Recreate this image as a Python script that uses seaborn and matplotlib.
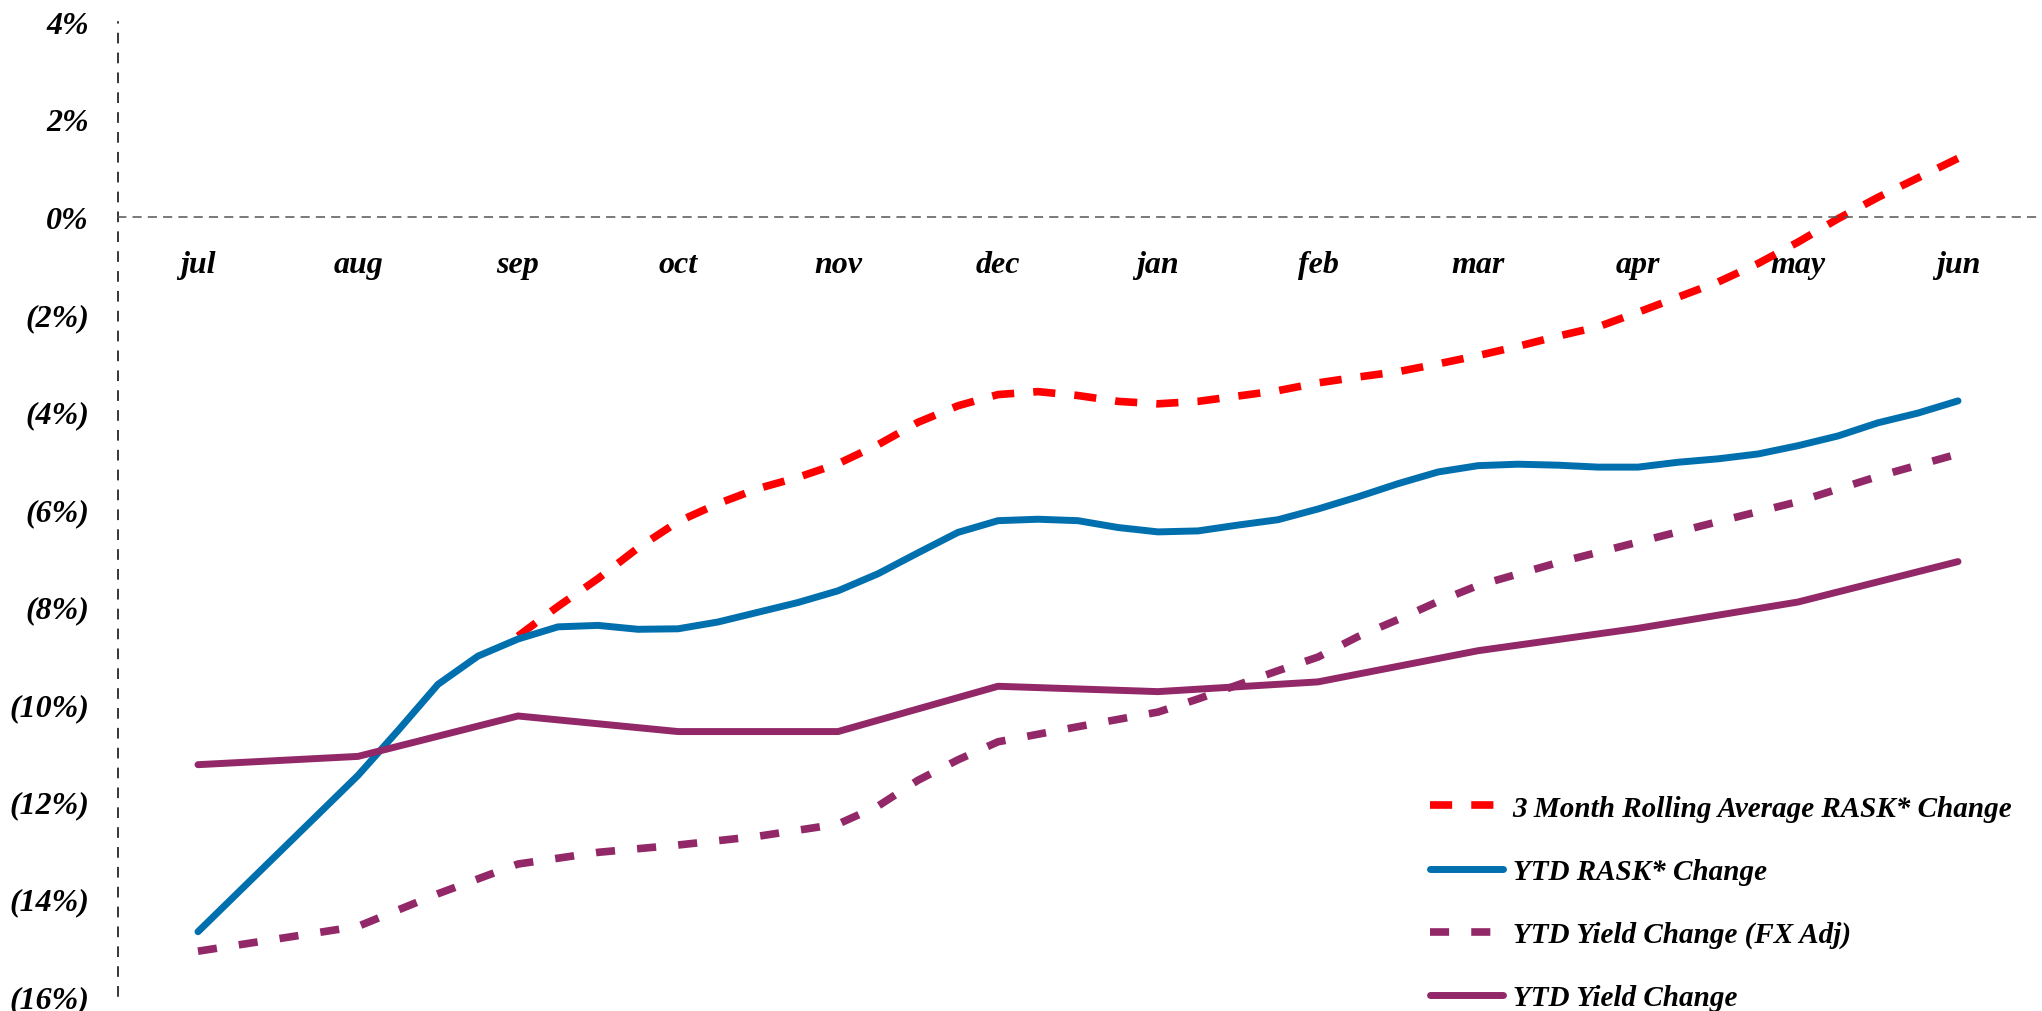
import numpy as np
import pandas as pd
import matplotlib
matplotlib.use("Agg")
import matplotlib.pyplot as plt
from matplotlib.ticker import FuncFormatter, FixedLocator
import seaborn as sns

# -------------------------------
# Data (% change)
# x positions are in months, 0 = jul ... 11 = jun
# -------------------------------
months = ["jul", "aug", "sep", "oct", "nov", "dec",
          "jan", "feb", "mar", "apr", "may", "jun"]

rolling_x = [2, 2.25, 2.5, 2.75, 3, 3.25, 3.5, 3.75, 4, 4.25, 4.5, 4.75,
             5, 5.25, 5.5, 5.75, 6, 6.25, 6.5, 6.75, 7, 7.25, 7.5, 7.75,
             8, 8.25, 8.5, 8.75, 9, 9.25, 9.5, 9.75, 10, 10.25, 10.5, 10.75, 11]
rolling_rask = [-8.61, -8.0, -7.43, -6.8, -6.26, -5.89, -5.58, -5.35, -5.07, -4.68, -4.22, -3.88,
                -3.65, -3.59, -3.67, -3.79, -3.84, -3.79, -3.68, -3.57, -3.41, -3.29, -3.18, -3.02,
                -2.85, -2.66, -2.45, -2.26, -1.96, -1.65, -1.34, -0.96, -0.52, -0.04, 0.4, 0.8, 1.2]

ytd_rask_x = [0, 1, 1.25, 1.5, 1.75, 2, 2.25, 2.5, 2.75, 3, 3.25, 3.5, 3.75, 4, 4.25, 4.5, 4.75,
              5, 5.25, 5.5, 5.75, 6, 6.25, 6.5, 6.75, 7, 7.25, 7.5, 7.75,
              8, 8.25, 8.5, 8.75, 9, 9.25, 9.5, 9.75, 10, 10.25, 10.5, 10.75, 11]
ytd_rask = [-14.68, -11.47, -10.55, -9.6, -9.02, -8.67, -8.42, -8.39, -8.47, -8.46, -8.32, -8.12, -7.92,
            -7.68, -7.33, -6.9, -6.48, -6.24, -6.21, -6.24, -6.38, -6.47, -6.45, -6.33, -6.22,
            -6.0, -5.75, -5.48, -5.24, -5.11, -5.08, -5.1, -5.14, -5.14, -5.04, -4.97, -4.87,
            -4.7, -4.5, -4.23, -4.03, -3.78]

yield_fx_x = [0, 1, 1.5, 2, 2.5, 3, 3.5, 4, 4.25, 4.5, 4.75, 5, 5.5, 6, 6.25, 6.5, 6.75,
              7, 7.25, 7.5, 7.75, 8, 8.5, 9, 9.5, 10, 10.5, 11]
ytd_yield_fx = [-15.08, -14.57, -13.9, -13.29, -13.05, -12.9, -12.72, -12.47, -12.1, -11.57, -11.15,
                -10.78, -10.47, -10.17, -9.9, -9.61, -9.32, -9.04, -8.62, -8.27, -7.9, -7.57,
                -7.1, -6.68, -6.26, -5.85, -5.33, -4.87]

yield_x = list(range(12))
ytd_yield = [-11.25, -11.08, -10.25, -10.57, -10.57, -9.64, -9.75, -9.55, -8.91, -8.45, -7.91, -7.08]

RED = "#FF0000"
BLUE = "#006FAE"
PURPLE = "#922867"

# -------------------------------
# Figure
# -------------------------------
sns.set_style("white")
plt.rcParams["font.family"] = ["Liberation Serif", "DejaVu Serif"]
plt.rcParams["text.color"] = "black"
FAMILY = ["Liberation Serif", "DejaVu Serif"]

fig = plt.figure(figsize=(20.42, 10.12), dpi=100)
ax = fig.add_axes([118 / 2042, 15 / 1012, 1920 / 2042, 974 / 1012])

sns.lineplot(x=rolling_x, y=rolling_rask, ax=ax, color=RED, lw=5.5,
             linestyle=(0, (2.9, 2.5)), label="3 Month Rolling Average RASK* Change")
sns.lineplot(x=ytd_rask_x, y=ytd_rask, ax=ax, color=BLUE, lw=5,
             solid_capstyle="round", solid_joinstyle="round", label="YTD RASK* Change")
sns.lineplot(x=yield_fx_x, y=ytd_yield_fx, ax=ax, color=PURPLE, lw=5.5,
             linestyle=(0, (2.5, 2.9)), label="YTD Yield Change (FX Adj)")
sns.lineplot(x=yield_x, y=ytd_yield, ax=ax, color=PURPLE, lw=5,
             solid_capstyle="round", solid_joinstyle="round", label="YTD Yield Change")

ax.set_xlim(-0.5, 11.5)
ax.set_ylim(-16, 4)

# spines
ax.spines["top"].set_visible(False)
ax.spines["right"].set_visible(False)
ax.spines["left"].set_linestyle((0, (6, 7)))
ax.spines["left"].set_color("black")
ax.spines["left"].set_linewidth(1.1)
ax.spines["bottom"].set_position(("data", 0))
ax.spines["bottom"].set_linestyle((0, (5, 5)))
ax.spines["bottom"].set_color("#555555")
ax.spines["bottom"].set_linewidth(1.1)

# y axis
ax.yaxis.set_major_locator(FixedLocator(np.arange(-16, 5, 2)))
ax.yaxis.set_major_formatter(FuncFormatter(
    lambda v, p: f"({abs(v):.0f}%)" if v < 0 else f"{v:.0f}%"))
ax.tick_params(axis="y", direction="out", length=7, width=1, color="black",
               labelcolor="black", pad=14)

# x axis: month labels under the zero line, boundary ticks between months
ax.set_xticks(range(12))
ax.set_xticklabels(months)
ax.set_xticks(np.arange(-0.5, 12, 1), minor=True)
ax.tick_params(axis="x", which="major", length=0, pad=24, labelcolor="black")
ax.tick_params(axis="x", which="minor", direction="out", length=6, width=1, color="#555555")

for lab in ax.get_xticklabels() + ax.get_yticklabels():
    lab.set_fontfamily(FAMILY)
    lab.set_fontweight("bold")
    lab.set_fontstyle("italic")
    lab.set_fontsize(23)

ax.set_xlabel("")
ax.set_ylabel("")

leg = ax.legend(loc="upper left", bbox_to_anchor=(1415 / 2042, 1 - 781 / 1012),
                bbox_transform=fig.transFigure, frameon=False,
                prop=dict(family=FAMILY, weight="bold", style="italic", size=21),
                handlelength=2.5, labelspacing=1.24, handletextpad=0.35, borderpad=0)
for t in leg.get_texts():
    t.set_color("black")

fig.savefig("out.png", dpi=100)
